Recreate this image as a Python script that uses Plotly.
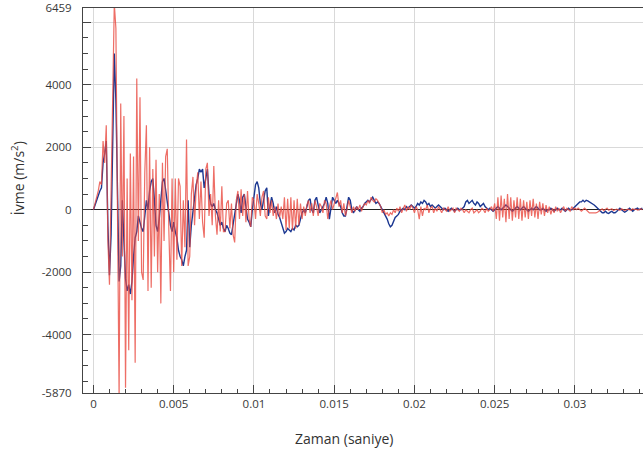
import plotly.graph_objects as go

# sample step (s)
dt = 0.0001

blue = [
    0, 150, 350, 500, 600, 700, 1500, 1800, 2200, -500,
    -2100, -800, 2500, 5000, 3500, 800, -2300, -1800, 300, -1000,
    -2200, -2600, -2400, -2700, -2300, -1500, -900, -700, -200, -400,
    -600, -700, -100, 300, 0, 600, 900, 1000, 300, -500,
    -700, -300, 300, 900, 1000, 600, 300, -200, -500, -700,
    -400, -700, -900, -1300, -1500, -1600, -1800, -1500, -1300, 300,
    -1200, -500, -100, 400, 800, 1000, 1300, 1200, 1300, 700,
    1000, 1300, 500, 200, 100, 200, 0, -100, -300, -500,
    -400, -600, -700, -500, -600, -750, -800, -500, -200, 200,
    500, 300, -100, 400, 500, 100, -300, -400, -550, 0,
    500, 800, 900, 700, 200, 0, 300, 600, 700, -200,
    100, 400, 200, -100, 100, -150, -250, -400, -600, -750,
    -700, -600, -650, -700, -600, -650, -500, -550, -500, -300,
    -100, 0, -100, 100, 300, 350, 0, -100, 300, 400,
    100, -100, 0, 100, 200, 400, 200, -300, 100, 400,
    300, 200, 300, 200, 100, -100, -200, -200, 100, 400,
    300, 0, -100, 0, 100, 0, -50, 50, 100, 200,
    250, 300, 250, 350, 400, 300, 200, 250, 200, 100,
    0, -100, -150, -300, -450, -550, -500, -350, -250, -200,
    -150, -50, 0, 50, 0, 100, 50, 100, 150, 100,
    50, 100, 200, 150, 250, 200, 300, 250, 150, 200,
    100, 150, 100, 50, 100, 150, 100, 50, 0, 50,
    0, -50, 0, 50, 0, -50, 0, 50, 0, 0,
    50, 100, 250, 300, 200, 250, 300, 200, 150, 250,
    200, 100, 150, 200, 100, 50, 0, 50, 0, -50,
    0, 50, 100, 50, 0, 50, 100, 150, 100, 50,
    0, -50, 0, 50, 100, 50, 0, 50, 100, 50,
    0, -50, 0, 50, 0, 50, 100, 50, 0, 0,
    50, 0, -50, 0, 0, 50, 0, -50, 0, 50,
    0, 0, 50, 0, -50, 0, 50, 0, 0, 50,
    100, 150, 200, 250, 250, 300, 250, 300, 280, 250,
    230, 200, 150, 100, 50, 0, -50, -100, -100, -50,
    -100, -120, -80, -50, -100, -100, -60, 0, 50, 0,
    -50, -80, -50, 0, 50, 0, -50, 0, 30, 50,
    0, 20, 50,
]

red = [
    0, 200, 400, 600, 900, 800, 2200, 1500, 2700, -1000,
    -2400, 500, 3000, 6600, 5800, 1000, -6000, 3400, -1500, 3000,
    -5700, 1000, -4500, 1800, -2900, 1700, -4900, 4200, -1000, 3600,
    -2000, -2250, 1200, 2700, -2600, 2000, -2500, 1300, -1500, 1600,
    -2000, 500, -3000, 1500, -1000, 1700, 1950, -700, -2600, 1000,
    -2000, 1000, -1600, 1000, 750, -1800, 300, -1200, 2250, -1800,
    -1500, 500, 1050, -500, 700, 1200, -300, 900, -400, -900,
    1300, 1500, -200, 500, -500, 1400, -200, -800, 300, -700,
    750, -700, -700, 200, 300, -600, 200, -800, -1050, 300,
    600, -300, 650, -200, 500, -400, 600, -300, -550, 400,
    300, -300, 500, 200, -200, 400, 600, -200, -300, 400,
    -100, 300, -200, 100, -300, 200, -250, 100, -300, 400,
    -650, 350, -600, 400, -650, 300, -600, 350, -500, 200,
    -300, 100, -200, 150, 300, -100, 200, -200, 300, 100,
    -200, 200, 100, -100, 300, 200, -300, 100, 300, 0,
    200, 400, 550, 100, 300, -100, 200, -200, 0, 300,
    100, -100, 100, -50, 100, 0, 150, -50, 100, 200,
    150, 300, 200, 400, 300, 250, 350, 300, 200, 100,
    -100, 0, -150, -100, -200, -100, -150, 0, -100, 50,
    -50, 100, -100, 50, 150, -50, 100, 0, 150, 50,
    -100, 100, 0, -300, 100, -200, 50, 0, 150, -100,
    50, 100, -100, 50, -50, 100, 0, -100, 50, 0,
    -50, 100, -50, 0, 50, -100, 50, 0, -50, 50,
    0, -100, 0, -50, -100, 0, 50, -100, -50, 0,
    -100, -50, 50, 0, -100, 50, -50, 0, 100, -50,
    200, -300, 400, -350, 450, -250, 350, -400, 500, -300,
    400, -350, 300, -250, 400, -300, 350, -350, 300, -250,
    250, -300, 300, -200, 350, -250, 200, -300, 250, -150,
    200, -200, 150, -100, 100, -150, 50, -100, 100, -50,
    50, -100, 0, 100, -50, 50, 0, -50, 100, 0,
    50, 0, 50, 0, -50, 0, 50, 0, -50, -100,
    -100, -100, -120, -100, -80, -50, 0, 30, -30, 0,
    50, -20, 0, 30, -30, 0, 20, 0, -20, 30,
    0, -30, 0, 20, 0, -20, 30, 0, 20, -10,
    0, 30, 0,
]

x_ticks = [0, 0.005, 0.01, 0.015, 0.02, 0.025, 0.03]
x_ticktext = ["0", "0.005", "0.01", "0.015", "0.02", "0.025", "0.03"]
y_ticks = [-5870, -4000, -2000, 0, 2000, 4000, 6459]
y_ticktext = ["-5870", "-4000", "-2000", "0", "2000", "4000", "6459"]
y_extra_grid = [6000]
y_range = [-5870, 6459]

t_blue = [i * dt for i in range(len(blue))]
t_red = [i * dt for i in range(len(red))]

fig = go.Figure()
fig.add_trace(go.Scatter(x=t_blue, y=blue, mode="lines",
                         line=dict(color="#1c3892", width=1.4), name="blue"))
fig.add_trace(go.Scatter(x=t_red, y=red, mode="lines", opacity=0.8,
                         line=dict(color="#ea4a40", width=1.2), name="red"))

axis_col = "#444444"
grid_col = "#d9d9d9"
tick_font = dict(family="Open Sans", size=11.5, color="#383838")

fig.update_layout(
    width=643, height=452,
    margin=dict(l=83, r=0, t=8, b=59),
    plot_bgcolor="white", paper_bgcolor="white",
    showlegend=False,
    font=dict(family="Open Sans", color="#383838"),
    xaxis=dict(
        range=[-0.00065, 0.03424],
        tickmode="array", tickvals=x_ticks, ticktext=x_ticktext,
        tickfont=tick_font,
        showgrid=True, gridcolor=grid_col, gridwidth=1,
        ticks="inside", ticklen=8, tickcolor=axis_col, tickwidth=1,
        showline=True, linecolor=axis_col, linewidth=1, mirror=True,
        zeroline=False,
        minor=dict(tickmode="linear", tick0=0, dtick=0.001, ticks="inside",
                   ticklen=4, tickcolor=axis_col, showgrid=False),
    ),
    yaxis=dict(
        range=y_range,
        tickmode="array", tickvals=y_ticks, ticktext=y_ticktext,
        tickfont=tick_font,
        showgrid=True, gridcolor=grid_col, gridwidth=1,
        ticks="inside", ticklen=8, tickcolor=axis_col, tickwidth=1,
        ticklabelstandoff=8,
        showline=True, linecolor=axis_col, linewidth=1,
        zeroline=True, zerolinecolor="#222222", zerolinewidth=1,
        minor=dict(tickmode="linear", tick0=0, dtick=500, ticks="inside",
                   ticklen=5, tickcolor=axis_col, showgrid=False),
    ),
    yaxis2=dict(
        range=y_range, overlaying="y", side="left",
        tickmode="array", tickvals=y_extra_grid,
        showticklabels=False,
        showgrid=True, gridcolor=grid_col, gridwidth=1,
        ticks="inside", ticklen=8, tickcolor=axis_col,
        showline=False, zeroline=False,
    ),
    annotations=[
        dict(text="Zaman (saniye)", xref="paper", yref="paper",
             x=0.466, y=-0.117, showarrow=False,
             font=dict(family="Open Sans", size=14, color="#333333"),
             xanchor="center", yanchor="middle"),
        dict(text="İvme (m/s<sup>2</sup>)", xref="paper", yref="paper",
             x=-0.116, y=0.558, showarrow=False, textangle=-90,
             font=dict(family="Open Sans", size=14, color="#333333"),
             xanchor="center", yanchor="middle"),
    ],
)

# an invisible trace so the extra grid axis is drawn
fig.add_trace(go.Scatter(x=[t_blue[0]], y=[blue[0]], yaxis="y2", mode="lines",
                         line=dict(width=0), hoverinfo="skip", showlegend=False))

fig.write_html("out.html")
